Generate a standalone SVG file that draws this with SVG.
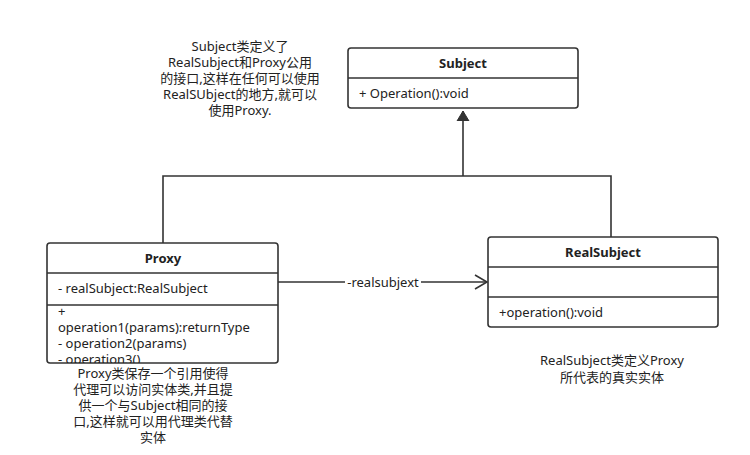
<svg xmlns="http://www.w3.org/2000/svg" width="750" height="455" viewBox="0 0 750 455">
<style>
text{font-family:"Noto Sans","Noto Sans CJK SC",sans-serif;font-size:13px;fill:#222}
.b{font-weight:bold}
.c{text-anchor:middle}
.box{fill:#fff;stroke:#333;stroke-width:1.6}
.ln{stroke:#333;stroke-width:1.6;fill:none}
</style>
<defs>
<marker id="tri" markerWidth="12" markerHeight="16" refX="10" refY="8" orient="auto" markerUnits="userSpaceOnUse"><path d="M0,2 L10,8 L0,14 z" fill="#333" stroke="#333"/></marker>
<marker id="open" markerWidth="16" markerHeight="16" refX="13" refY="8" orient="auto" markerUnits="userSpaceOnUse"><path d="M1,1 L13,8 L1,15" fill="none" stroke="#333" stroke-width="1.6"/></marker>
<clipPath id="pc"><rect x="47" y="305" width="231" height="58"/></clipPath>
</defs>
<rect width="750" height="455" fill="#fff"/>
<g id="connectors">
<path class="ln" d="M163,243 V176 H611 V237"/>
<path class="ln" d="M463,176 V111" marker-end="url(#tri)"/>
<path class="ln" d="M278,282 H487" marker-end="url(#open)"/>
<rect x="345" y="274" width="76" height="16" fill="#fff"/>
<text class="c" x="383" y="287">-realsubjext</text>
</g>
<g id="subject">
<rect class="box" x="348" y="48" width="230" height="60" rx="3"/>
<line class="ln" x1="348" y1="78" x2="578" y2="78"/>
<text class="c b" x="463" y="68">Subject</text>
<text x="359" y="98">+ Operation():void</text>
</g>
<g id="proxy">
<rect class="box" x="47" y="243" width="231" height="120" rx="3"/>
<line class="ln" x1="47" y1="273" x2="278" y2="273"/>
<line class="ln" x1="47" y1="305" x2="278" y2="305"/>
<text class="c b" x="163" y="263">Proxy</text>
<text x="58" y="293">- realSubject:RealSubject</text>
<g clip-path="url(#pc)">
<text x="58" y="316">+</text>
<text x="58" y="332">operation1(params):returnType</text>
<text x="58" y="348">- operation2(params)</text>
<text x="58" y="364">- operation3()</text>
</g>
</g>
<g id="realsubject">
<rect class="box" x="488" y="237" width="230" height="90" rx="3"/>
<line class="ln" x1="488" y1="267" x2="718" y2="267"/>
<line class="ln" x1="488" y1="297" x2="718" y2="297"/>
<text class="c b" x="603" y="257">RealSubject</text>
<text x="499" y="317">+operation():void</text>
</g>
<g id="note-subject">
<text class="c" x="240" y="51">Subject类定义了</text>
<text class="c" x="240" y="67">RealSubject和Proxy公用</text>
<text class="c" x="240" y="83">的接口,这样在任何可以使用</text>
<text class="c" x="240" y="99">RealSUbject的地方,就可以</text>
<text class="c" x="240" y="115">使用Proxy.</text>
</g>
<g id="note-proxy">
<text class="c" x="153" y="378">Proxy类保存一个引用使得</text>
<text class="c" x="153" y="394">代理可以访问实体类,并且提</text>
<text class="c" x="153" y="410">供一个与Subject相同的接</text>
<text class="c" x="153" y="426">口,这样就可以用代理类代替</text>
<text class="c" x="153" y="442">实体</text>
</g>
<g id="note-realsubject">
<text class="c" x="612" y="365">RealSubject类定义Proxy</text>
<text class="c" x="612" y="382">所代表的真实实体</text>
</g>
</svg>
